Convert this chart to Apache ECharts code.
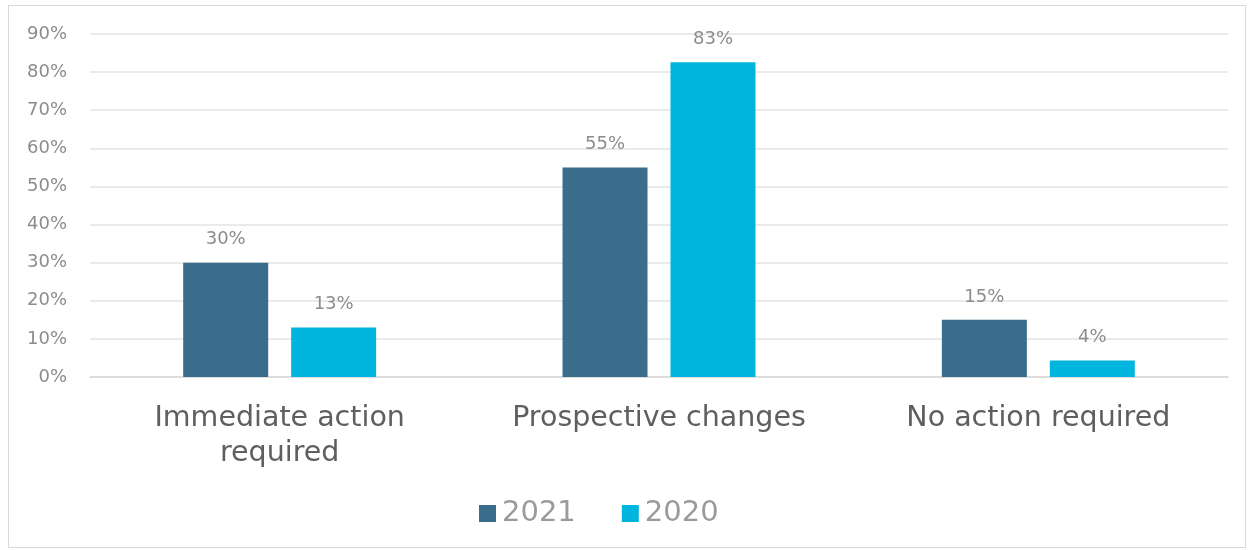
<!DOCTYPE html>
<html><head><meta charset="utf-8">
<script src="https://cdn.jsdelivr.net/npm/echarts@6/dist/echarts.min.js"></script>
<style>html,body{margin:0;padding:0;background:#fff}#c{width:1252px;height:550px}
#frame{position:absolute;left:8px;top:5px;width:1238px;height:543px;border:1px solid #d9d9d9;box-sizing:border-box;pointer-events:none}</style>
</head><body><div id="c"></div><div id="frame"></div>
<script>
const categories = ['Immediate action\nrequired', 'Prospective changes', 'No action required'];
const series2021 = [30, 55, 15];
const series2020 = [13, 82.6, 4.3];
const seriesNames = ['2021', '2020'];
const chart = echarts.init(document.getElementById('c'));
const font = 'DejaVu Sans, Verdana, sans-serif';
const lbl = {show:true, position:'top', distance:14, color:'#8c8c8c', fontSize:18, fontFamily:font,
  formatter: p => Math.round(p.value) + '%'};
chart.setOption({
  animation:false,
  grid:{left:90, right:24, top:34, bottom:173},
  legend:{data:seriesNames, bottom:17, left:474, itemWidth:17, itemHeight:17, itemGap:46,
    icon:'rect', textStyle:{color:'#9a9a9a', fontSize:29, fontFamily:font, padding:[0,0,0,1]}},
  xAxis:{type:'category', data:categories, axisLine:{lineStyle:{color:'#d9d9d9', width:1.5}}, axisTick:{show:false},
    axisLabel:{color:'#5f5f5f', fontSize:28.5, fontFamily:font, margin:24, lineHeight:35, interval:0}},
  yAxis:{type:'value', min:0, max:90, interval:10,
    axisLabel:{formatter:'{value}%', color:'#8c8c8c', fontSize:18, fontFamily:font, margin:23},
    splitLine:{lineStyle:{color:'#e3e3e3', width:1.5}}, axisLine:{show:false}},
  series:[
    {name:seriesNames[0], type:'bar', data:series2021, barWidth:85, barGap:'27%', itemStyle:{color:'#3a6d8c'}, label:lbl},
    {name:seriesNames[1], type:'bar', data:series2020, barWidth:85, itemStyle:{color:'#00b5de'}, label:lbl}
  ]
});
</script></body></html>
